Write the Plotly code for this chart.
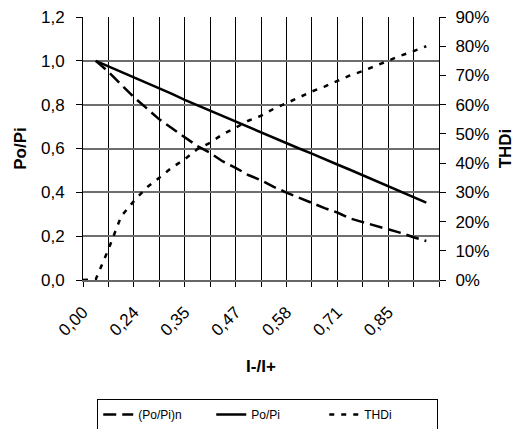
import plotly.graph_objects as go

# I-/I+ category labels (only every 4th one is shown on the axis)
i_ratio = ["0,00", "0,06", "0,12", "0,18", "0,24", "0,27", "0,30", "0,32",
           "0,35", "0,38", "0,41", "0,44", "0,47", "0,50", "0,52", "0,55",
           "0,58", "0,61", "0,64", "0,68", "0,71", "0,74", "0,78", "0,81",
           "0,85", "0,88", "0,92", "0,96", "1,00"]

po_pi_n = [None, 1.000, 0.950, 0.892, 0.834, 0.784, 0.733, 0.692, 0.652, 0.611,
           0.580, 0.541, 0.512, 0.479, 0.455, 0.425, 0.399, 0.376, 0.350, 0.328,
           0.308, 0.281, 0.264, 0.248, 0.230, 0.215, 0.195, 0.178, None]

po_pi = [None, 1.000, 0.975, 0.950, 0.925, 0.900, 0.876, 0.849, 0.822, 0.797,
         0.773, 0.748, 0.724, 0.698, 0.673, 0.648, 0.624, 0.600, 0.577, 0.551,
         0.527, 0.503, 0.478, 0.453, 0.428, 0.403, 0.378, 0.353, None]

thdi = [0.000, 0.002, 0.105, 0.218, 0.270, 0.316, 0.350, 0.385, 0.413, 0.448,
        0.470, 0.499, 0.521, 0.545, 0.562, 0.586, 0.605, 0.625, 0.645, 0.662,
        0.682, 0.700, 0.715, 0.733, 0.750, 0.768, 0.783, 0.800, None]

y_grid = [0.2, 0.4, 0.6, 0.8, 1.0]

n_last = len(i_ratio) - 1
tick_vals = i_ratio[::2]
tick_text = [lab if (k % 4 == 0 and k < n_last) else "" for k, lab in enumerate(i_ratio)][::2]

FONT = "Liberation Sans, Arial, sans-serif"

fig = go.Figure()
# empty helper trace so the grid-only axis (y3) is rendered
fig.add_trace(go.Scatter(x=[i_ratio[0]], y=[None], yaxis="y3", mode="lines",
                         showlegend=False, hoverinfo="skip"))
fig.add_trace(go.Scatter(x=i_ratio, y=po_pi_n, name="(Po/Pi)n", mode="lines",
                         line=dict(color="black", width=2.5, dash="13px,6px")))
fig.add_trace(go.Scatter(x=i_ratio, y=po_pi, name="Po/Pi", mode="lines",
                         line=dict(color="black", width=2.5)))
fig.add_trace(go.Scatter(x=i_ratio, y=thdi, name="THDi", mode="lines", yaxis="y2",
                         line=dict(color="black", width=2.5, dash="5px,7px")))

fig.update_layout(
    width=517, height=429,
    margin=dict(l=83, r=78, t=17, b=149, autoexpand=False),
    paper_bgcolor="white", plot_bgcolor="white",
    separators=", ",
    font=dict(family=FONT, size=17, color="black"),
    showlegend=True,
    legend=dict(orientation="h", x=0.04, xanchor="left", y=-0.452, yanchor="top",
                bordercolor="black", borderwidth=1, font=dict(size=12),
                entrywidth=68, entrywidthmode="pixels", tracegroupgap=0),
    xaxis=dict(type="category", range=[0, n_last],
               tickmode="array", tickvals=tick_vals, ticktext=tick_text,
               tickangle=-45, tickfont=dict(size=17),
               ticklabelstandoff=9, ticklabelshift=0,
               showgrid=True, gridcolor="black", gridwidth=1,
               showline=True, linecolor="#666", linewidth=1.5,
               ticks="outside", ticklen=5, tickcolor="black",
               title=dict(text="<b>I-/I+</b>", font=dict(size=17), standoff=21),
               zeroline=False, automargin=False),
    yaxis=dict(range=[0, 1.2], dtick=0.2, tickformat=".1f",
               tickfont=dict(size=17), ticklabelstandoff=8,
               showgrid=False,
               showline=True, linecolor="black", linewidth=1,
               ticks="outside", ticklen=6, tickcolor="black",
               title=dict(text="<b>Po/Pi</b>", font=dict(size=17), standoff=10),
               zeroline=False, automargin=False),
    yaxis3=dict(range=[0, 1.2], tickmode="array", tickvals=y_grid,
                overlaying="y", showticklabels=False, ticks="",
                showgrid=True, gridcolor="#6e6e6e", gridwidth=1.5,
                showline=False, zeroline=False, automargin=False),
    yaxis2=dict(range=[0, 0.9], dtick=0.1, tickformat=".0%", overlaying="y",
                side="right", tickfont=dict(size=17), showgrid=False,
                ticklabelstandoff=6,
                showline=True, linecolor="black", linewidth=1,
                ticks="outside", ticklen=6, tickcolor="black",
                title=dict(text="<b>THDi</b>", font=dict(size=17), standoff=10),
                zeroline=False, automargin=False),
)

fig.write_html("out.html", config={"displayModeBar": False},
               post_script="document.body.style.margin='0px';"
                           "document.body.style.overflow='hidden';")
